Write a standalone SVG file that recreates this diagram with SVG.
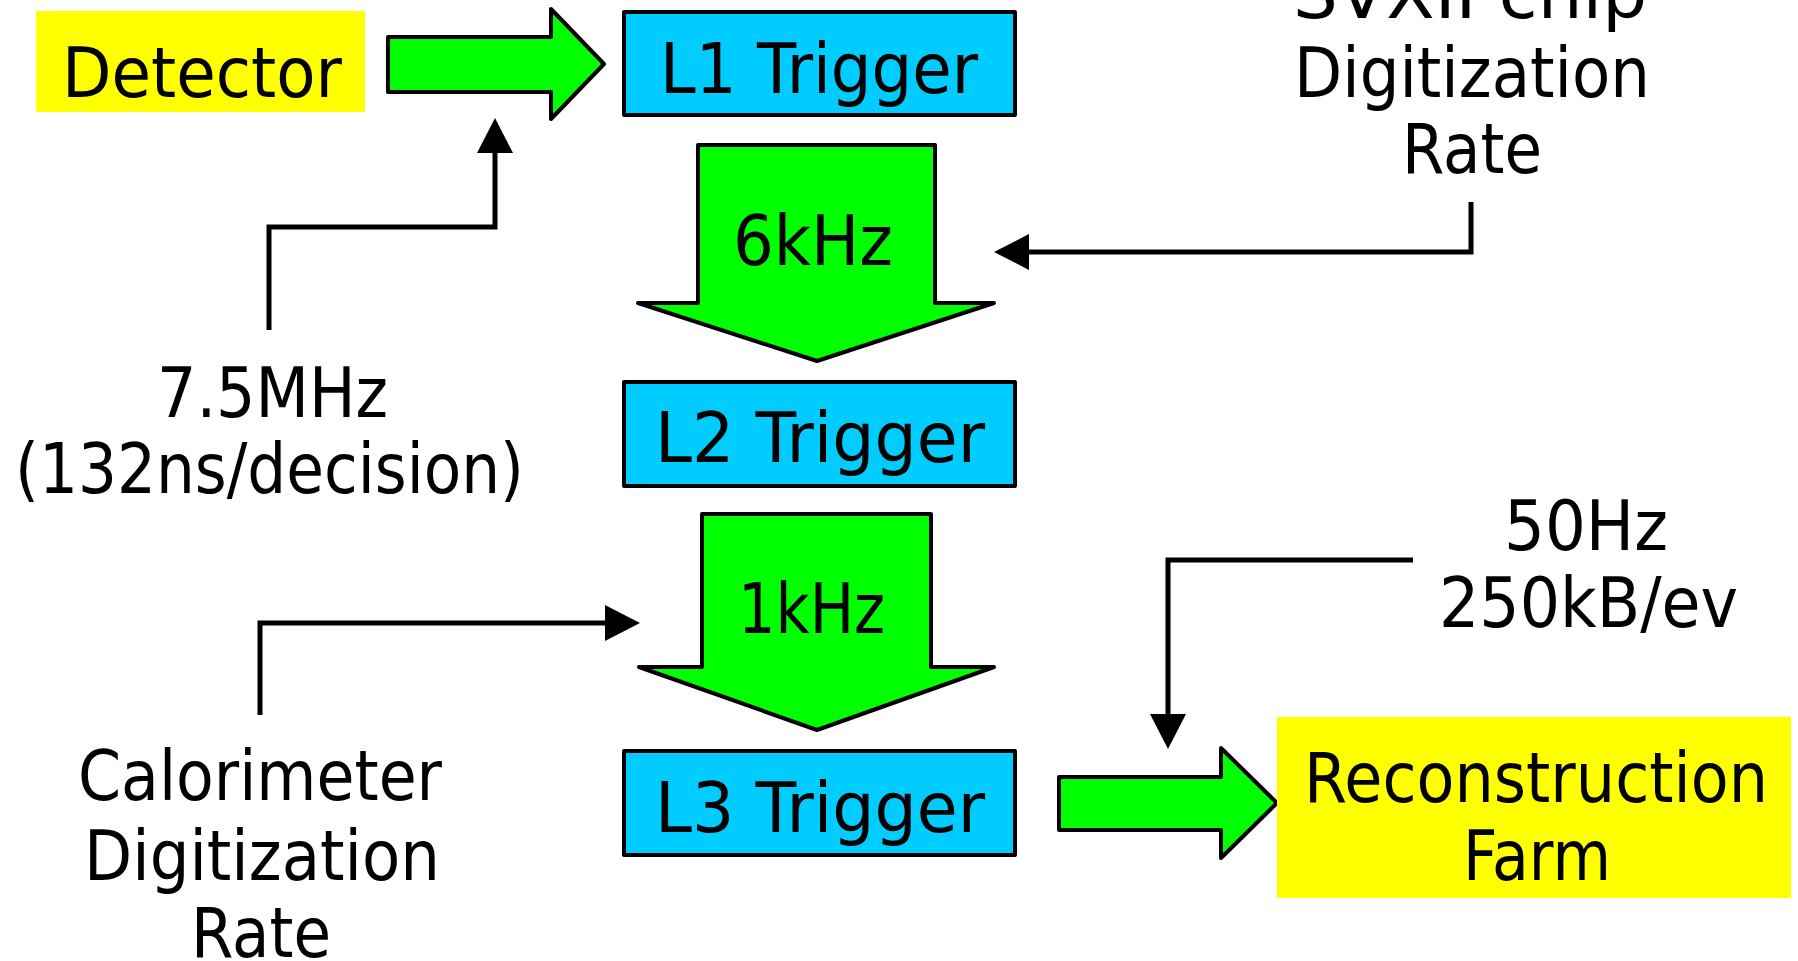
<svg xmlns="http://www.w3.org/2000/svg" width="1798" height="961" viewBox="0 0 1798 961">
<style>
  .t { font-family: "DejaVu Sans", "Noto Sans", sans-serif; font-size: 70px; fill: #000; }
  .yellow { fill: #FFFF00; }
  .trig { fill: #00CCFF; stroke: #000; stroke-width: 4; stroke-linejoin: round; }
  .flow { fill: #00FF00; stroke: #000; stroke-width: 4; stroke-linejoin: round; }
  .wire { fill: none; stroke: #000; stroke-width: 5; stroke-linejoin: miter; }
</style>
<defs>
  <marker id="ah" markerUnits="userSpaceOnUse" viewBox="0 0 35 36" markerWidth="35" markerHeight="36" refX="0" refY="18" orient="auto">
    <path d="M0,0 L35,18 L0,36 z" fill="#000"/>
  </marker>
</defs>
<rect width="1798" height="961" fill="#fff"/>

<g id="connectors">
  <g id="flow-arrows">
    <polygon class="flow" points="388,37 551,37 551,9 604,64 551,119 551,92 388,92"/>
    <polygon class="flow" points="698,145 935,145 935,303 994,303 817,361 638,303 698,303"/>
    <polygon class="flow" points="702,514 931,514 931,667 994,667 817,730 639,667 702,667"/>
    <polygon class="flow" points="1059,777 1221,777 1221,748 1277,803 1221,858 1221,830 1059,830"/>
    <text class="t" x="733" y="265" textLength="160" lengthAdjust="spacingAndGlyphs">6kHz</text>
    <text class="t" x="738" y="633" textLength="147" lengthAdjust="spacingAndGlyphs">1kHz</text>
  </g>
  <path class="wire" d="M269,330 V227 H495 V153" marker-end="url(#ah)"/>
  <path class="wire" d="M1471,202 V252 H1029" marker-end="url(#ah)"/>
  <path class="wire" d="M260,715 V623 H605" marker-end="url(#ah)"/>
  <path class="wire" d="M1413,560 H1168 V714" marker-end="url(#ah)"/>
</g>

<g id="detector">
  <rect class="yellow" x="36" y="11" width="329" height="101"/>
  <text class="t" x="62" y="97" textLength="280" lengthAdjust="spacingAndGlyphs">Detector</text>
</g>

<g id="l1-trigger">
  <rect class="trig" x="624" y="12" width="391" height="103"/>
  <text class="t" x="660" y="93" textLength="318" lengthAdjust="spacingAndGlyphs">L1 Trigger</text>
</g>

<g id="l2-trigger">
  <rect class="trig" x="624" y="382" width="391" height="104"/>
  <text class="t" x="655" y="462" textLength="330" lengthAdjust="spacingAndGlyphs">L2 Trigger</text>
</g>

<g id="l3-trigger">
  <rect class="trig" x="624" y="751" width="391" height="104"/>
  <text class="t" x="655" y="832" textLength="330" lengthAdjust="spacingAndGlyphs">L3 Trigger</text>
</g>

<g id="reconstruction-farm">
  <rect class="yellow" x="1277" y="717" width="514" height="181"/>
  <text class="t" x="1304" y="802" textLength="464" lengthAdjust="spacingAndGlyphs">Reconstruction</text>
  <text class="t" x="1463" y="880" textLength="148" lengthAdjust="spacingAndGlyphs">Farm</text>
</g>

<g id="svx-rate">
  <text class="t" x="1293" y="18" textLength="354" lengthAdjust="spacingAndGlyphs">SVXII chip</text>
  <text class="t" x="1294" y="97" textLength="356" lengthAdjust="spacingAndGlyphs">Digitization</text>
  <text class="t" x="1402" y="173" textLength="140" lengthAdjust="spacingAndGlyphs">Rate</text>
</g>

<g id="clock-rate">
  <text class="t" x="157" y="417" textLength="231" lengthAdjust="spacingAndGlyphs">7.5MHz</text>
  <text class="t" x="15" y="493" textLength="509" lengthAdjust="spacingAndGlyphs">(132ns/decision)</text>
</g>

<g id="output-rate">
  <text class="t" x="1504" y="550" textLength="164" lengthAdjust="spacingAndGlyphs">50Hz</text>
  <text class="t" x="1439" y="627" textLength="299" lengthAdjust="spacingAndGlyphs">250kB/ev</text>
</g>

<g id="calorimeter-rate">
  <text class="t" x="78" y="800" textLength="364" lengthAdjust="spacingAndGlyphs">Calorimeter</text>
  <text class="t" x="84" y="880" textLength="356" lengthAdjust="spacingAndGlyphs">Digitization</text>
  <text class="t" x="191" y="957" textLength="140" lengthAdjust="spacingAndGlyphs">Rate</text>
</g>
</svg>
